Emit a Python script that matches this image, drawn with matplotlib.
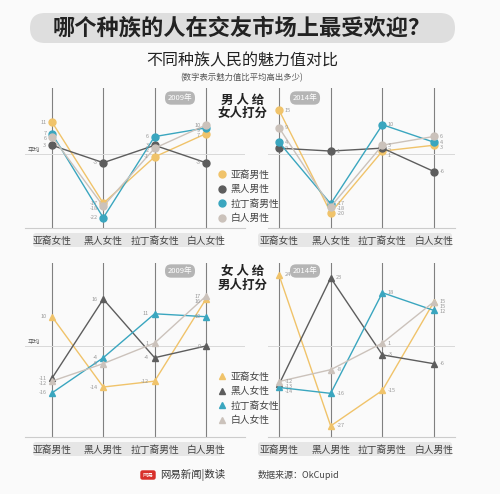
import matplotlib
matplotlib.use('Agg')
import matplotlib.pyplot as plt
from matplotlib.lines import Line2D
from matplotlib.patches import FancyBboxPatch

plt.rcParams['font.family'] = ['Noto Sans CJK SC', 'DejaVu Sans']

women_cats = ['亚裔女性', '黑人女性', '拉丁裔女性', '白人女性']
men_cats = ['亚裔男性', '黑人男性', '拉丁裔男性', '白人男性']

# men rating women, 2009 / 2014
m09_asian = [11, -17, -1, 7]
m09_black = [3, -3, 3, -3]
m09_latino = [7, -22, 6, 9]
m09_white = [6, -18, 2, 10]

m14_asian = [15, -20, 1, 3]
m14_black = [2, 1, 2, -6]
m14_latino = [4, -17, 10, 4]
m14_white = [9, -18, 3, 6]

# women rating men, 2009 / 2014
w09_asian = [10, -14, -12, 16]
w09_black = [-11, 16, -4, 0]
w09_latino = [-16, -4, 11, 10]
w09_white = [-12, -6, 1, 17]

w14_asian = [24, -27, -15, 15]
w14_black = [-13, 23, -3, -6]
w14_latino = [-14, -16, 18, 12]
w14_white = [-12, -8, 1, 15]

colors = ['#f0c36a', '#5d5d5d', '#3aa6bf', '#cbc2bb']
W, H = 500, 494
bg = '#fafafa'

fig = plt.figure(figsize=(W / 100, H / 100), dpi=100, facecolor=bg)

# background layer in pixel coords (title box, label bands)
bgax = fig.add_axes([0, 0, 1, 1], zorder=-5)
bgax.set_xlim(0, W)
bgax.set_ylim(H, 0)
bgax.axis('off')
bgax.add_patch(FancyBboxPatch((30, 13), 425, 30, boxstyle='round,pad=0,rounding_size=15',
                              fc='#dedede', ec='none'))
for y0 in (233, 442):
    for x0, x1 in ((33, 222), (258, 452)):
        bgax.add_patch(FancyBboxPatch((x0, y0), x1 - x0, 14,
                                      boxstyle='round,pad=0,rounding_size=3',
                                      fc='#e6e6e6', ec='none'))


def fbox(l, t, r, b):
    return [l / W, 1 - b / H, (r - l) / W, (b - t) / H]


def panel(box, col0, step, avg, unit, series, cats, marker, side):
    l, t, r, b = box
    ax = fig.add_axes(fbox(l, t, r, b))
    ax.set_facecolor('none')
    ax.set_xlim((l - col0) / step, (r - col0) / step)
    ax.set_ylim((avg - b) / unit, (avg - t) / unit)
    for k in range(4):
        ax.axvline(k, color='#808080', lw=0.8, zorder=1)
    ax.axhline(0, color='#d8d8d8', lw=0.7, zorder=1)
    for vals, c in zip(series, colors):
        ax.plot(range(4), vals, color=c, lw=1.0, marker=marker, ms=5,
                mec=c, zorder=3)
    # value labels, nudged apart so close values stay readable
    dx = -4 if side == 'left' else 4
    gap = 5.0  # px
    for k in range(4):
        pts = sorted([s[k] for s in series], reverse=True)
        ys = []
        for v in pts:
            y = -v * unit
            if ys and y < ys[-1] + gap:
                y = ys[-1] + gap
            ys.append(y)
        for v, y in zip(pts, ys):
            dy = (-v * unit - y) * 0.72
            ax.annotate(str(v), (k, v), xytext=(dx, dy),
                        textcoords='offset points', fontsize=4,
                        color='#999999', va='center',
                        ha='right' if side == 'left' else 'left')
    for s in ['top', 'left', 'right']:
        ax.spines[s].set_visible(False)
    ax.spines['bottom'].set_color('#cccccc')
    ax.set_yticks([])
    ax.set_xticks(range(4))
    ax.set_xticklabels(cats, fontsize=7, color='#444444')
    ax.tick_params(axis='x', length=0, pad=6)
    if side == 'left':
        ax.text(-0.47, 0, '平均', fontsize=4.5, color='#555555', va='bottom')
    return ax


panel((25, 88, 245, 228), 52, 51.3, 154, 2.9,
      [m09_asian, m09_black, m09_latino, m09_white], women_cats, 'o', 'left')
panel((268, 88, 455, 228), 279, 51.7, 154, 2.93,
      [m14_asian, m14_black, m14_latino, m14_white], women_cats, 'o', 'right')
panel((25, 263, 245, 437), 52, 51.3, 346, 2.93,
      [w09_asian, w09_black, w09_latino, w09_white], men_cats, '^', 'left')
panel((268, 263, 455, 437), 279, 51.7, 346, 2.96,
      [w14_asian, w14_black, w14_latino, w14_white], men_cats, '^', 'right')

# year badges
for x, y, s in ((180, 98, '2009年'), (305, 98, '2014年'), (180, 271, '2009年'), (305, 271, '2014年')):
    fig.text(x / W, 1 - y / H, s, fontsize=5.5, color='white', ha='center', va='center',
             bbox=dict(boxstyle='round,pad=0.35,rounding_size=0.8', fc='#b5b5b5', ec='none'))

# panel titles
for y, l1, l2 in ((100, '男 人 给', '女人打分'), (272, '女 人 给', '男人打分')):
    fig.text(243 / W, 1 - y / H, l1, fontsize=9, fontweight='bold', ha='center', va='center', color='#222222')
    fig.text(243 / W, 1 - (y + 13) / H, l2, fontsize=9, fontweight='bold', ha='center', va='center', color='#222222')

# legends
for y, labs, mk in ((165, men_cats, 'o'), (367, women_cats, '^')):
    handles = [Line2D([], [], ls='none', marker=mk, ms=5, color=c) for c in colors]
    fig.legend(handles, labs, loc='upper left', bbox_to_anchor=(214 / W, 1 - y / H),
               frameon=False, fontsize=7, handlelength=0.6, handletextpad=0.6,
               labelspacing=0.45, borderpad=0, labelcolor='#444444')

# title
fig.text(242 / W, 1 - 28 / H, '哪个种族的人在交友市场上最受欢迎？', fontsize=16,
         fontweight='bold', ha='center', va='center', color='#222222')
fig.text(242 / W, 1 - 61 / H, '不同种族人民的魅力值对比', fontsize=11.5,
         ha='center', va='center', color='#222222')
fig.text(242 / W, 1 - 78 / H, '(数字表示魅力值比平均高出多少)', fontsize=6,
         ha='center', va='center', color='#555555')

# footer
fig.text(148 / W, 1 - 475 / H, '网易', fontsize=4, color='white', ha='center', va='center',
         bbox=dict(boxstyle='round,pad=0.4', fc='#d8302b', ec='none'))
fig.text(160 / W, 1 - 475 / H, '网易新闻|数读', fontsize=7.5, ha='left', va='center', color='#333333')
fig.text(258 / W, 1 - 475 / H, '数据来源：OkCupid', fontsize=6.5, ha='left', va='center', color='#444444')

fig.savefig('out.png', dpi=100, facecolor=bg)
